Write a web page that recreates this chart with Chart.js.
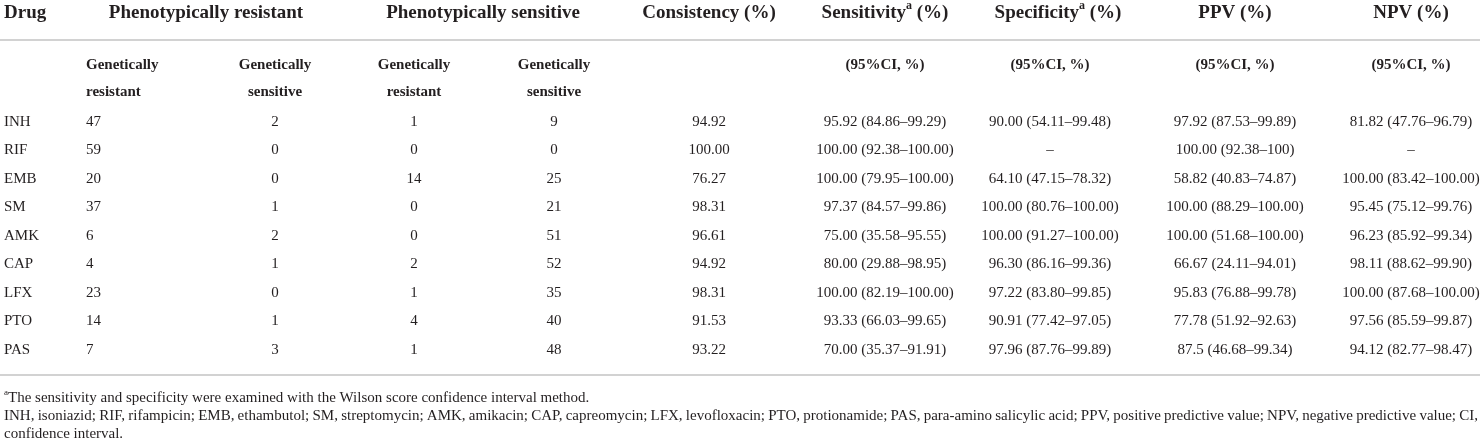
<!DOCTYPE html>
<html>
<head>
<meta charset="utf-8">
<script src="https://cdn.jsdelivr.net/npm/chart.js@4.4.1/dist/chart.umd.min.js"></script>
<style>
  html, body { margin: 0; padding: 0; background: #fff; }
</style>
</head>
<body>
<canvas id="table" width="1484" height="442"></canvas>
<script>
// table values
const drugs = ['INH', 'RIF', 'EMB', 'SM', 'AMK', 'CAP', 'LFX', 'PTO', 'PAS'];
const resGenRes = [47, 59, 20, 37, 6, 4, 23, 14, 7];
const resGenSen = [2, 0, 0, 1, 2, 1, 0, 1, 3];
const senGenRes = [1, 0, 14, 0, 0, 2, 1, 4, 1];
const senGenSen = [9, 0, 25, 21, 51, 52, 35, 40, 48];
const consistency = ['94.92', '100.00', '76.27', '98.31', '96.61', '94.92', '98.31', '91.53', '93.22'];
const sensitivity = ['95.92 (84.86–99.29)', '100.00 (92.38–100.00)', '100.00 (79.95–100.00)', '97.37 (84.57–99.86)',
  '75.00 (35.58–95.55)', '80.00 (29.88–98.95)', '100.00 (82.19–100.00)', '93.33 (66.03–99.65)', '70.00 (35.37–91.91)'];
const specificity = ['90.00 (54.11–99.48)', '–', '64.10 (47.15–78.32)', '100.00 (80.76–100.00)', '100.00 (91.27–100.00)',
  '96.30 (86.16–99.36)', '97.22 (83.80–99.85)', '90.91 (77.42–97.05)', '97.96 (87.76–99.89)'];
const ppv = ['97.92 (87.53–99.89)', '100.00 (92.38–100)', '58.82 (40.83–74.87)', '100.00 (88.29–100.00)', '100.00 (51.68–100.00)',
  '66.67 (24.11–94.01)', '95.83 (76.88–99.78)', '77.78 (51.92–92.63)', '87.5 (46.68–99.34)'];
const npv = ['81.82 (47.76–96.79)', '–', '100.00 (83.42–100.00)', '95.45 (75.12–99.76)', '96.23 (85.92–99.34)',
  '98.11 (88.62–99.90)', '100.00 (87.68–100.00)', '97.56 (85.59–99.87)', '94.12 (82.77–98.47)'];

// header texts ([text, superscript, text after])
const topHeaders = [['Drug'], ['Phenotypically resistant'], ['Phenotypically sensitive'], ['Consistency (%)'],
  ['Sensitivity', 'a', ' (%)'], ['Specificity', 'a', ' (%)'], ['PPV (%)'], ['NPV (%)']];
const subHeaders1 = ['Genetically', 'Genetically', 'Genetically', 'Genetically', '', '(95%CI, %)', '(95%CI, %)', '(95%CI, %)', '(95%CI, %)'];
const subHeaders2 = ['resistant', 'sensitive', 'resistant', 'sensitive', '', '', '', '', ''];
const footnote1 = ['a', 'The sensitivity and specificity were examined with the Wilson score confidence interval method.'];
const footnote2 = 'INH, isoniazid; RIF, rifampicin; EMB, ethambutol; SM, streptomycin; AMK, amikacin; CAP, capreomycin; LFX, levofloxacin; PTO, protionamide; PAS, para-amino salicylic acid; PPV, positive predictive value; NPV, negative predictive value; CI,';
const footnote3 = 'confidence interval.';

// layout (x in px, y in row units; data rows sit at 0..8)
const colX = [4, 86, 275, 414, 554, 709, 885, 1050, 1235, 1411];
const colAlign = ['left', 'left', 'center', 'center', 'center', 'center', 'center', 'center', 'center', 'center'];
const topX = [4, 206, 483, 709, 885, 1058, 1235, 1411];
const rowY = { top: -3.825, topLine: -2.877, sub1: -2.0, sub2: -1.053, bottomLine: 8.877, fn1: 9.684, fn2: 10.333, fn3: 10.965 };
const textColor = '#231f20';
const ruleColor = '#d2d2d2';
const serif = '"Liberation Serif", "DejaVu Serif", serif';

const columns = [drugs, resGenRes, resGenSen, senGenRes, senGenSen, consistency, sensitivity, specificity, ppv, npv];

const datasets = columns.map((col, j) => ({
  label: 'col' + j,
  data: col.map((v, i) => ({ x: colX[j], y: i })),
  texts: col.map(v => String(v)),
  align: colAlign[j],
  pointRadius: 0,
  showLine: false
}));

function drawRuns(ctx, runs, x, y, align, size, weight) {
  const font = s => weight + ' ' + s + 'px ' + serif;
  ctx.font = font(size);
  const w0 = ctx.measureText(runs[0]).width;
  let w1 = 0, w2 = 0;
  if (runs.length > 1) {
    ctx.font = font(Math.round(size * 0.62));
    w1 = ctx.measureText(runs[1]).width;
    ctx.font = font(size);
    w2 = ctx.measureText(runs[2]).width;
  }
  const total = w0 + w1 + w2;
  let sx = align === 'center' ? x - total / 2 : x;
  ctx.textAlign = 'left';
  ctx.font = font(size);
  ctx.fillText(runs[0], sx, y);
  if (runs.length > 1) {
    ctx.font = font(Math.round(size * 0.62));
    ctx.fillText(runs[1], sx + w0, y - size * 0.38);
    ctx.font = font(size);
    ctx.fillText(runs[2], sx + w0 + w1, y);
  }
}

const tablePlugin = {
  id: 'tableText',
  afterDatasetsDraw(chart) {
    const ctx = chart.ctx;
    const xs = chart.scales.x, ys = chart.scales.y;
    ctx.save();
    ctx.fillStyle = textColor;
    ctx.textBaseline = 'middle';

    // body cells at element positions
    chart.data.datasets.forEach((ds, k) => {
      const meta = chart.getDatasetMeta(k);
      ctx.font = '15px ' + serif;
      ctx.textAlign = ds.align;
      meta.data.forEach((el, i) => ctx.fillText(ds.texts[i], el.x, el.y));
    });

    // header row
    topHeaders.forEach((h, j) => {
      drawRuns(ctx, h, xs.getPixelForValue(topX[j]), ys.getPixelForValue(rowY.top), j === 0 ? 'left' : 'center', 19, 'bold');
    });
    subHeaders1.forEach((t, j) => {
      const c = j + 1;
      ctx.font = 'bold 15px ' + serif;
      ctx.textAlign = colAlign[c];
      ctx.fillText(t, xs.getPixelForValue(colX[c]), ys.getPixelForValue(rowY.sub1));
      ctx.fillText(subHeaders2[j], xs.getPixelForValue(colX[c]), ys.getPixelForValue(rowY.sub2));
    });

    // rules
    ctx.strokeStyle = ruleColor;
    ctx.lineWidth = 2;
    [rowY.topLine, rowY.bottomLine].forEach(r => {
      const y = Math.round(ys.getPixelForValue(r));
      ctx.beginPath();
      ctx.moveTo(xs.getPixelForValue(0), y);
      ctx.lineTo(xs.getPixelForValue(1480), y);
      ctx.stroke();
    });

    // footnotes
    const fs = 15;
    const left = xs.getPixelForValue(4), right = xs.getPixelForValue(1478);
    ctx.textAlign = 'left';
    ctx.font = Math.round(fs * 0.62) + 'px ' + serif;
    const supW = ctx.measureText(footnote1[0]).width;
    ctx.fillText(footnote1[0], left, ys.getPixelForValue(rowY.fn1) - fs * 0.35);
    ctx.font = fs + 'px ' + serif;
    ctx.fillText(footnote1[1], left + supW, ys.getPixelForValue(rowY.fn1));

    // justified line
    const words = footnote2.split(' ');
    const wordsW = words.reduce((s, w) => s + ctx.measureText(w).width, 0);
    const gap = (right - left - wordsW) / (words.length - 1);
    let x = left;
    const y2 = ys.getPixelForValue(rowY.fn2);
    words.forEach(w => {
      ctx.fillText(w, x, y2);
      x += ctx.measureText(w).width + gap;
    });
    ctx.fillText(footnote3, left, ys.getPixelForValue(rowY.fn3));
    ctx.restore();
  }
};

new Chart(document.getElementById('table'), {
  type: 'scatter',
  data: { datasets },
  options: {
    responsive: false,
    animation: false,
    events: [],
    layout: { padding: 0 },
    plugins: { legend: { display: false }, tooltip: { enabled: false } },
    scales: {
      x: { type: 'linear', min: 0, max: 1484, display: false },
      y: { type: 'linear', min: -4.2807, max: 11.228, reverse: true, display: false }
    }
  },
  plugins: [tablePlugin]
});
</script>
</body>
</html>
